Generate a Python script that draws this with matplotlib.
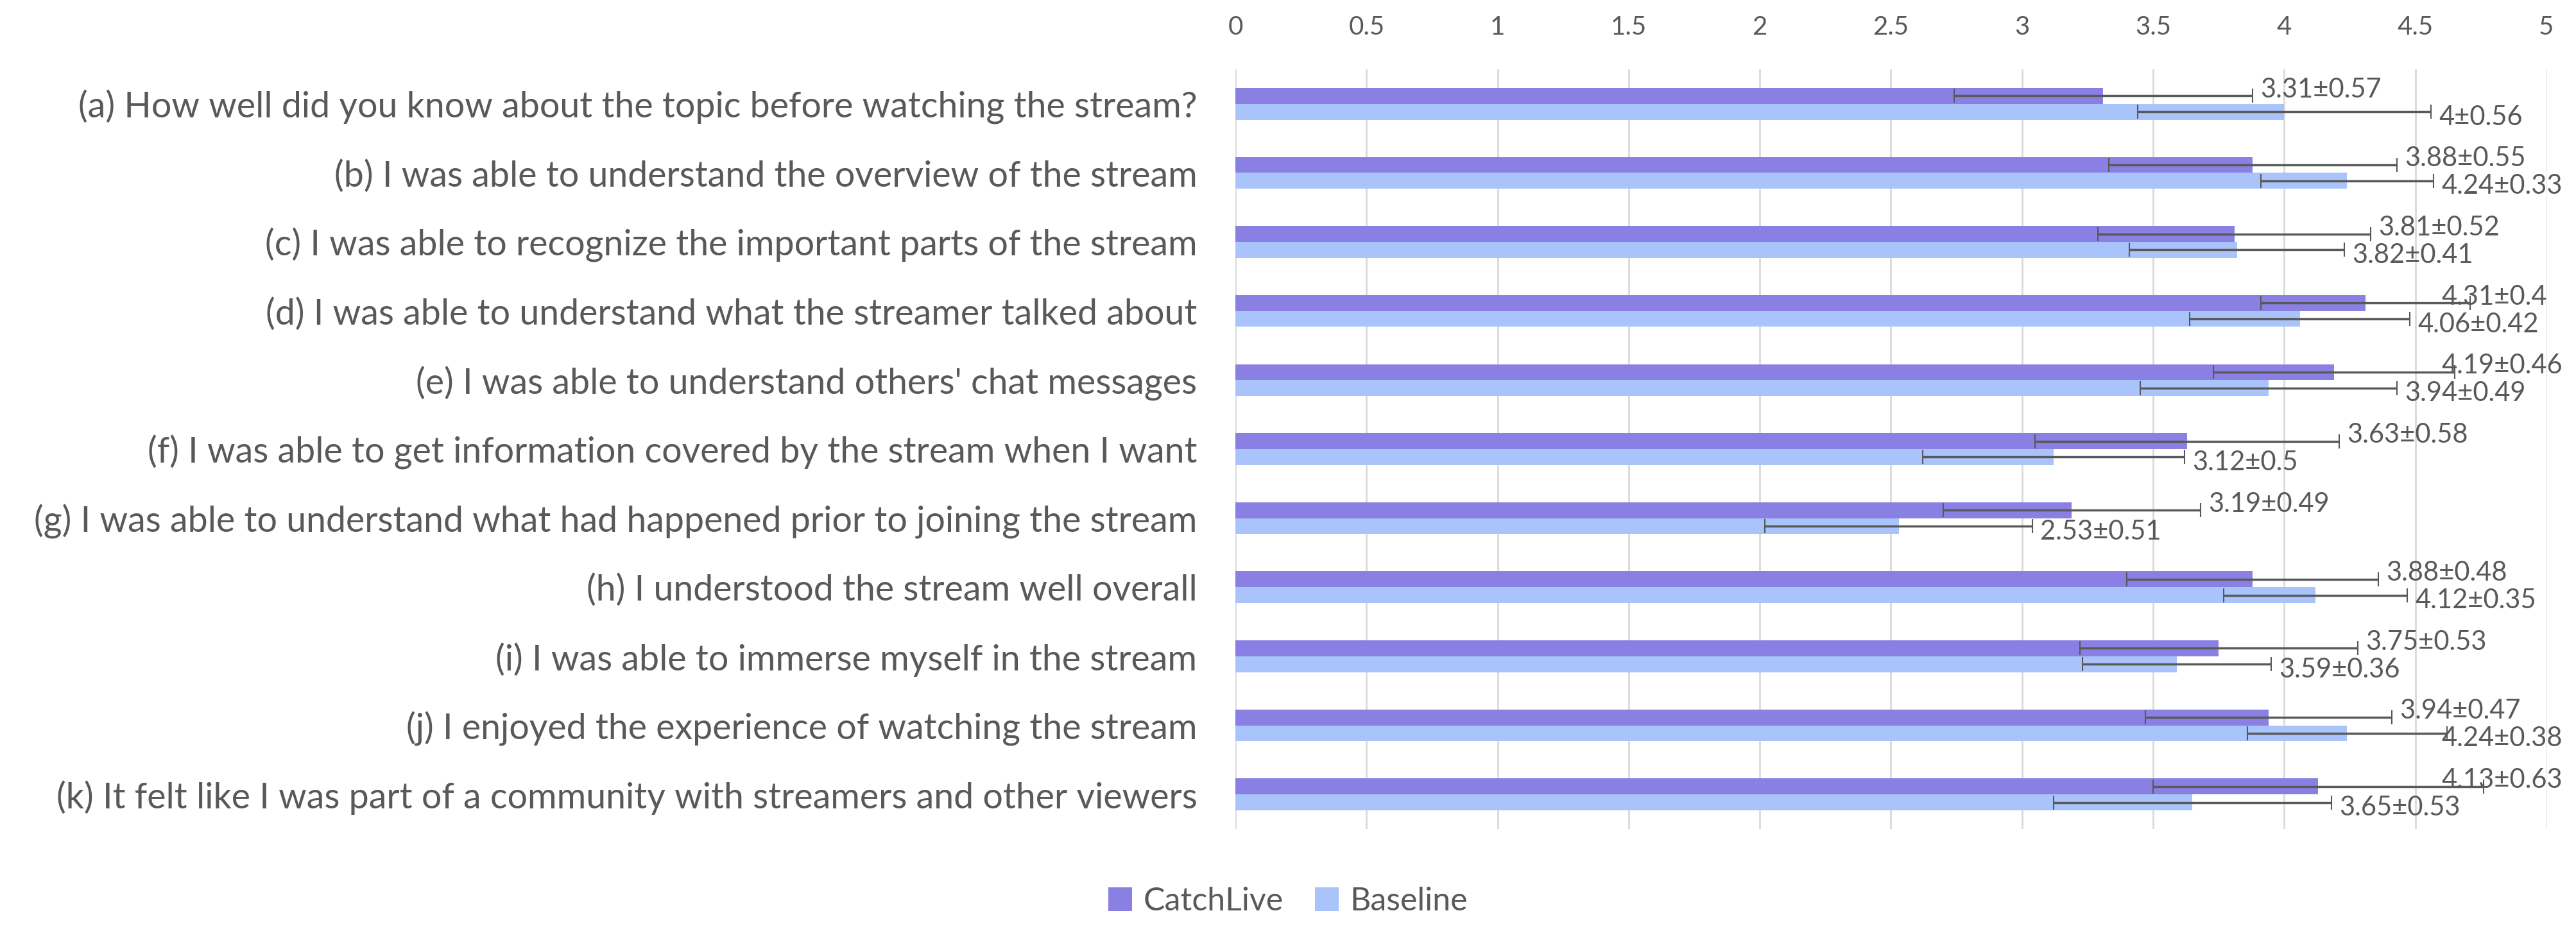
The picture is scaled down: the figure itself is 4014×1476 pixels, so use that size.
import matplotlib.pyplot as plt
import numpy as np

plt.rcParams['font.family'] = ['Lato', 'DejaVu Sans']

# data
questions = [
    "(a) How well did you know about the topic before watching the stream?",
    "(b) I was able to understand the overview of the stream",
    "(c) I was able to recognize the important parts of the stream",
    "(d) I was able to understand what the streamer talked about",
    "(e) I was able to understand others' chat messages",
    "(f) I was able to get information covered by the stream when I want",
    "(g) I was able to understand what had happened prior to joining the stream",
    "(h) I understood the stream well overall",
    "(i) I was able to immerse myself in the stream",
    "(j) I enjoyed the experience of watching the stream",
    "(k) It felt like I was part of a community with streamers and other viewers",
]
catchlive_mean = [3.31, 3.88, 3.81, 4.31, 4.19, 3.63, 3.19, 3.88, 3.75, 3.94, 4.13]
catchlive_sd = [0.57, 0.55, 0.52, 0.4, 0.46, 0.58, 0.49, 0.48, 0.53, 0.47, 0.63]
baseline_mean = [4, 4.24, 3.82, 4.06, 3.94, 3.12, 2.53, 4.12, 3.59, 4.24, 3.65]
baseline_sd = [0.56, 0.33, 0.41, 0.42, 0.49, 0.5, 0.51, 0.35, 0.36, 0.38, 0.53]

c_purple = '#8A7FE3'
c_blue = '#A9C4FA'
c_text = '#595959'

fig = plt.figure(figsize=(40.14, 14.76), dpi=100)
ax = fig.add_axes([0.4796, 0.1247, 0.5089, 0.8021])

y = np.arange(len(questions))
h = 0.23

ax.barh(y - h / 2, catchlive_mean, height=h, color=c_purple, label='CatchLive', zorder=2)
ax.barh(y + h / 2, baseline_mean, height=h, color=c_blue, label='Baseline', zorder=2)
ax.errorbar(catchlive_mean, y - h / 2, xerr=catchlive_sd, fmt='none', ecolor=c_text,
            elinewidth=2.5, capsize=8, capthick=1.5, zorder=3)
ax.errorbar(baseline_mean, y + h / 2, xerr=baseline_sd, fmt='none', ecolor=c_text,
            elinewidth=2.5, capsize=8, capthick=1.5, zorder=3)

fmt = lambda v: ('%g' % v)
# labels sit just right of the error bar, pulled left near the edge
for i in range(len(questions)):
    xc = min(catchlive_mean[i] + catchlive_sd[i] + 0.03, 4.6)
    ax.text(xc, y[i] - h / 2 - 0.09,
            fmt(catchlive_mean[i]) + '±' + fmt(catchlive_sd[i]),
            va='center', ha='left', fontsize=30, color=c_text, zorder=4)
    xb = min(baseline_mean[i] + baseline_sd[i] + 0.03, 4.6)
    ax.text(xb, y[i] + h / 2 + 0.08,
            fmt(baseline_mean[i]) + '±' + fmt(baseline_sd[i]),
            va='center', ha='left', fontsize=30, color=c_text, zorder=4)

ax.set_xlim(0, 5)
ax.set_xticks(np.arange(0, 5.01, 0.5))
ax.set_xticklabels([fmt(t) for t in np.arange(0, 5.01, 0.5)])
ax.set_ylim(len(questions) - 0.5, -0.5)
ax.set_yticks(y)
ax.set_yticklabels(questions)
ax.xaxis.tick_top()
ax.tick_params(axis='x', length=0, pad=34, labelsize=29, labelcolor=c_text)
ax.tick_params(axis='y', length=0, pad=43, labelsize=40, labelcolor=c_text)
ax.grid(axis='x', color='#D9D9D9', linewidth=2, zorder=0)
for s in ax.spines.values():
    s.set_visible(False)

fig.legend(loc='center', bbox_to_anchor=(0.5, 0.048), ncol=2, frameon=False,
           fontsize=36, labelcolor=c_text, handlelength=0.74, handleheight=0.76,
           columnspacing=1.0, handletextpad=0.35)

fig.savefig('out.png', dpi=100)
